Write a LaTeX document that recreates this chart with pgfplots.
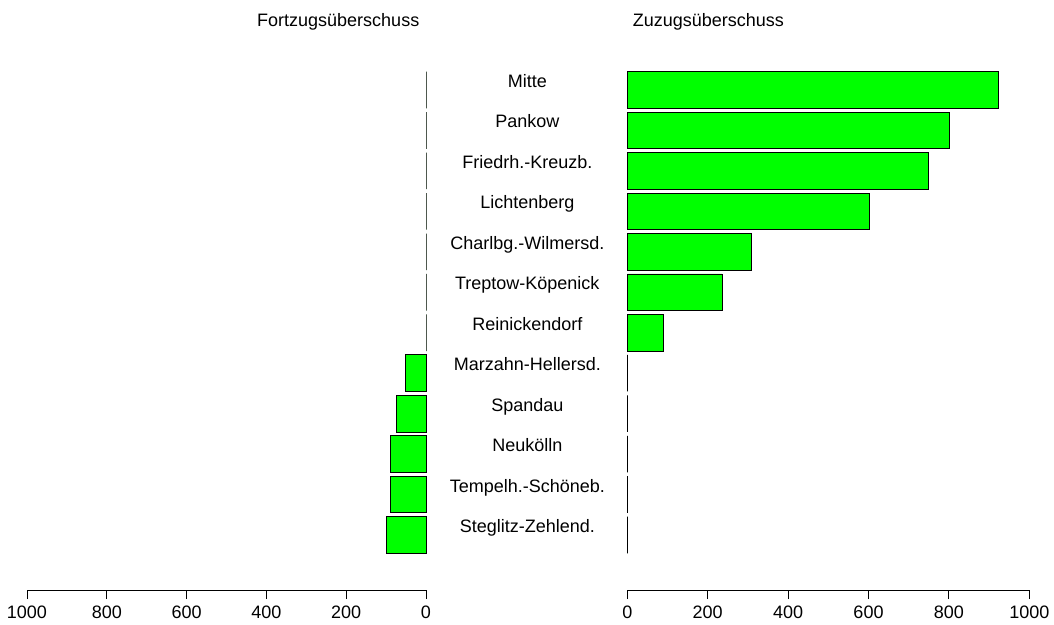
\documentclass[border=0pt]{standalone}
\usepackage{pgfplots}
\pgfplotsset{compat=1.18}
\usepackage{fontspec}
\setmainfont{Liberation Sans}
\definecolor{bargreen}{RGB}{0,255,0}
\begin{document}
\begin{tikzpicture}
\useasboundingbox (0,0) rectangle (1054bp,625bp);
\pgfplotsset{
  common/.style={
    scale only axis,
    xbar,
    bar width=0.905,
    ymin=-0.5, ymax=12.36,
    y dir=reverse,
    xmin=0, xmax=1000,
    enlargelimits=false,
    axis x line*=bottom,
    axis y line*=left,
    y axis line style={draw=none},
    x axis line style={-, line width=0.9bp},
    xtick={0,200,400,600,800,1000},
    tick align=outside,
    major tick length=9bp,
    xtick style={line width=0.9bp, black},
    ytick style={draw=none},
    ticklabel style={font=\fontsize{18bp}{20bp}\selectfont},
    /pgf/number format/assume math mode=true,
    /pgf/number format/1000 sep={},
    xticklabel style={yshift=-3bp},
    clip=false,
  },
}
% left panel
\begin{axis}[common,
  width=399bp, height=520.2bp,
  at={(226.5bp,295.1bp)}, anchor=center,
  x dir=reverse,
  ytick=\empty,
]
\addplot[fill=bargreen, draw=black, line width=0.8bp] coordinates {
  (0,0) (0,1) (0,2) (0,3) (0,4) (0,5) (0,6)
  (52,7) (73,8) (90,9) (90,10) (100,11)
};
\end{axis}
% right panel
\begin{axis}[common,
  width=402bp, height=520.2bp,
  at={(828.3bp,295.1bp)}, anchor=center,
  ytick={0,1,2,3,4,5,6,7,8,9,10,11},
  yticklabels={Mitte,Pankow,Friedrh.-Kreuzb.,Lichtenberg,Charlbg.-Wilmersd.,Treptow-Köpenick,Reinickendorf,Marzahn-Hellersd.,Spandau,Neukölln,Tempelh.-Schöneb.,Steglitz-Zehlend.},
  yticklabel style={anchor=base, font=\fontsize{18bp}{20bp}\selectfont, xshift=-91bp, yshift=2.5bp},
]
\addplot[fill=bargreen, draw=black, line width=0.8bp] coordinates {
  (922,0) (801,1) (750,2) (603,3) (309,4) (236,5) (89,6)
  (0,7) (0,8) (0,9) (0,10) (0,11)
};
\end{axis}
\node[anchor=base west, inner sep=0, font=\fontsize{18bp}{20bp}\selectfont] at (257bp,598.3bp) {Fortzugsüberschuss};
\node[anchor=base west, inner sep=0, font=\fontsize{18bp}{20bp}\selectfont] at (632.7bp,598.3bp) {Zuzugsüberschuss};
\end{tikzpicture}
\end{document}
